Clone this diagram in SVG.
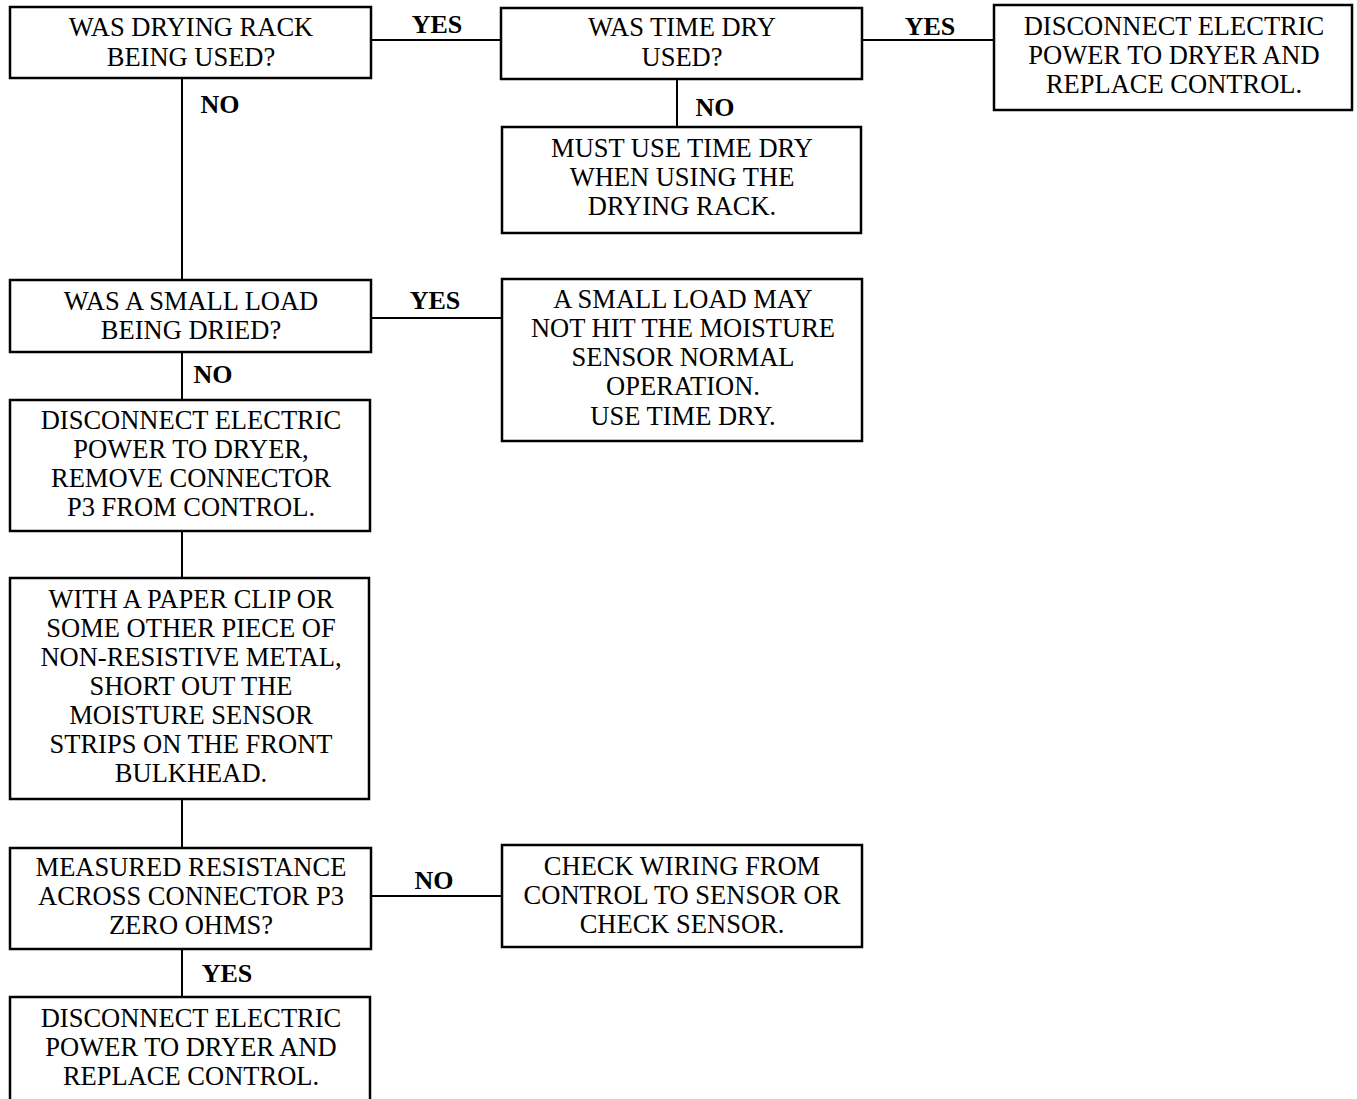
<svg xmlns="http://www.w3.org/2000/svg" width="1357" height="1099" viewBox="0 0 1357 1099">
<style>
.box{fill:#fff;stroke:#000;stroke-width:2.5}
.ln{stroke:#000;stroke-width:2;fill:none}
text{font-family:'Liberation Serif','Tinos','DejaVu Serif',serif;font-size:26.5px;fill:#000;text-anchor:middle}
.lbl{font-weight:bold;font-size:26px}
</style>
<rect width="1357" height="1099" fill="#fff"/>
<g id="connectors">
<line class="ln" x1="371" y1="40" x2="501" y2="40"/>
<line class="ln" x1="862" y1="40" x2="994" y2="40"/>
<line class="ln" x1="677" y1="79" x2="677" y2="127"/>
<line class="ln" x1="182" y1="78" x2="182" y2="280"/>
<line class="ln" x1="371" y1="318" x2="502" y2="318"/>
<line class="ln" x1="182" y1="352" x2="182" y2="400"/>
<line class="ln" x1="182" y1="531" x2="182" y2="578"/>
<line class="ln" x1="182" y1="799" x2="182" y2="848"/>
<line class="ln" x1="371" y1="896" x2="502" y2="896"/>
<line class="ln" x1="182" y1="949" x2="182" y2="997"/>
<text class="lbl" x="437" y="33">YES</text>
<text class="lbl" x="930" y="35">YES</text>
<text class="lbl" x="220" y="113">NO</text>
<text class="lbl" x="715" y="116">NO</text>
<text class="lbl" x="435" y="309">YES</text>
<text class="lbl" x="213" y="383">NO</text>
<text class="lbl" x="434" y="889">NO</text>
<text class="lbl" x="227" y="982">YES</text>
</g>
<g id="n1"><rect class="box" x="10" y="7" width="361" height="71"/>
<text x="191" y="36">WAS DRYING RACK</text><text x="191" y="66">BEING USED?</text></g>
<g id="n2"><rect class="box" x="501" y="8" width="361" height="71"/>
<text x="682" y="36">WAS TIME DRY</text><text x="682" y="66">USED?</text></g>
<g id="n3"><rect class="box" x="994" y="5" width="358" height="105"/>
<text x="1174" y="35">DISCONNECT ELECTRIC</text><text x="1174" y="64">POWER TO DRYER AND</text><text x="1174" y="93">REPLACE CONTROL.</text></g>
<g id="n4"><rect class="box" x="502" y="127" width="359" height="106"/>
<text x="682" y="157">MUST USE TIME DRY</text><text x="682" y="186">WHEN USING THE</text><text x="682" y="215">DRYING RACK.</text></g>
<g id="n5"><rect class="box" x="10" y="280" width="361" height="72"/>
<text x="191" y="310">WAS A SMALL LOAD</text><text x="191" y="339">BEING DRIED?</text></g>
<g id="n6"><rect class="box" x="502" y="279" width="360" height="162"/>
<text x="683" y="308">A SMALL LOAD MAY</text><text x="683" y="337">NOT HIT THE MOISTURE</text><text x="683" y="366">SENSOR NORMAL</text><text x="683" y="395">OPERATION.</text><text x="683" y="425">USE TIME DRY.</text></g>
<g id="n7"><rect class="box" x="10" y="400" width="360" height="131"/>
<text x="191" y="429">DISCONNECT ELECTRIC</text><text x="191" y="458">POWER TO DRYER,</text><text x="191" y="487">REMOVE CONNECTOR</text><text x="191" y="516">P3 FROM CONTROL.</text></g>
<g id="n8"><rect class="box" x="10" y="578" width="359" height="221"/>
<text x="191" y="608">WITH A PAPER CLIP OR</text><text x="191" y="637">SOME OTHER PIECE OF</text><text x="191" y="666">NON-RESISTIVE METAL,</text><text x="191" y="695">SHORT OUT THE</text><text x="191" y="724">MOISTURE SENSOR</text><text x="191" y="753">STRIPS ON THE FRONT</text><text x="191" y="782">BULKHEAD.</text></g>
<g id="n9"><rect class="box" x="10" y="848" width="361" height="101"/>
<text x="191" y="876">MEASURED RESISTANCE</text><text x="191" y="905">ACROSS CONNECTOR P3</text><text x="191" y="934">ZERO OHMS?</text></g>
<g id="n10"><rect class="box" x="502" y="845" width="360" height="102"/>
<text x="682" y="875">CHECK WIRING FROM</text><text x="682" y="904">CONTROL TO SENSOR OR</text><text x="682" y="933">CHECK SENSOR.</text></g>
<g id="n11"><rect class="box" x="10" y="997" width="360" height="115"/>
<text x="191" y="1027">DISCONNECT ELECTRIC</text><text x="191" y="1056">POWER TO DRYER AND</text><text x="191" y="1085">REPLACE CONTROL.</text></g>
</svg>
